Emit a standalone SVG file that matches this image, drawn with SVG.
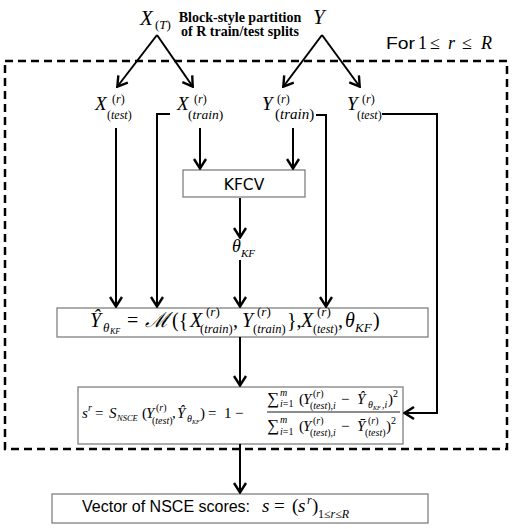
<svg xmlns="http://www.w3.org/2000/svg" width="512" height="529" viewBox="0 0 512 529">
<defs>
<marker id="ah" markerUnits="userSpaceOnUse" viewBox="0 0 12 14" markerWidth="12" markerHeight="14" refX="11" refY="7" orient="auto">
<path d="M1,1 L10.5,7 L1,13" fill="none" stroke="#000" stroke-width="2.4"/>
</marker>
</defs>
<style>
.mi{font-family:"Liberation Serif","DejaVu Serif",serif;font-style:italic;fill:#000}
.mu{font-family:"Liberation Serif","DejaVu Serif",serif;font-style:normal;fill:#000}
.ss{font-family:"Liberation Sans",Arial,sans-serif;fill:#000}
.box{fill:#fff;stroke:#808080;stroke-width:1.3}
.c{fill:none;stroke:#000;stroke-width:2;marker-end:url(#ah)}
</style>
<rect width="512" height="529" fill="#fff"/>

<!-- loop frame -->
<g id="loop">
<rect x="5" y="61" width="502" height="388" fill="none" stroke="#000" stroke-width="2.5" stroke-dasharray="8,5"/>
<text class="ss" x="386" y="49" font-size="17" textLength="29" lengthAdjust="spacingAndGlyphs">For</text>
<text class="mu" x="418" y="49" font-size="18">1<tspan x="430">≤</tspan><tspan x="448" class="mi">r</tspan><tspan x="462">≤</tspan><tspan x="481" class="mi">R</tspan></text>
</g>

<!-- top sources -->
<g id="XT">
<text class="mi" x="140" y="25" font-size="21">X<tspan class="mu" x="155" y="29" font-size="13">(</tspan><tspan font-size="13">T</tspan><tspan class="mu" font-size="13">)</tspan></text>
</g>
<g id="partition-label">
<text font-family="'Liberation Serif',serif" font-weight="bold" font-size="14" x="240" y="22" text-anchor="middle">Block-style partition</text>
<text font-family="'Liberation Serif',serif" font-weight="bold" font-size="14" x="240" y="36" text-anchor="middle">of R train/test splits</text>
</g>
<g id="Y">
<text class="mi" x="313" y="24" font-size="21">Y</text>
</g>

<!-- split labels -->
<g id="Xtest">
<text class="mi" x="95" y="110" font-size="19">X<tspan class="mu" x="112" y="103" font-size="12">(</tspan><tspan font-size="12">r</tspan><tspan class="mu" font-size="12">)</tspan><tspan class="mu" x="107" y="119" font-size="12">(</tspan><tspan font-size="12">test</tspan><tspan class="mu" font-size="12">)</tspan></text>
</g>
<g id="Xtrain">
<text class="mi" x="177" y="110" font-size="19">X<tspan class="mu" x="194" y="103" font-size="12">(</tspan><tspan font-size="12">r</tspan><tspan class="mu" font-size="12">)</tspan><tspan class="mu" x="188" y="119" font-size="13.5">(</tspan><tspan font-size="13.5">train</tspan><tspan class="mu" font-size="13.5">)</tspan></text>
</g>
<g id="Ytrain">
<text class="mi" x="262" y="110" font-size="19">Y<tspan class="mu" x="277" y="103" font-size="12">(</tspan><tspan font-size="12">r</tspan><tspan class="mu" font-size="12">)</tspan><tspan class="mu" x="275" y="119" font-size="15">(</tspan><tspan font-size="15">train</tspan><tspan class="mu" font-size="15">)</tspan></text>
</g>
<g id="Ytest">
<text class="mi" x="347" y="110" font-size="19">Y<tspan class="mu" x="362" y="103" font-size="12">(</tspan><tspan font-size="12">r</tspan><tspan class="mu" font-size="12">)</tspan><tspan class="mu" x="357" y="119" font-size="12">(</tspan><tspan font-size="12">test</tspan><tspan class="mu" font-size="12">)</tspan></text>
</g>

<!-- KFCV -->
<g id="KFCV">
<rect class="box" x="183" y="170" width="122" height="27"/>
<text font-family="'DejaVu Sans',sans-serif" font-size="15.5" x="244" y="190" text-anchor="middle">KFCV</text>
</g>

<g id="theta">
<text class="mi" x="232" y="252" font-size="18">θ<tspan x="241" y="257" font-size="11">KF</tspan></text>
</g>

<!-- model box -->
<g id="model">
<rect class="box" x="57" y="308" width="371" height="29"/>
<text class="mi" x="90" y="327" font-size="20">Ŷ<tspan x="103" y="332" font-size="13">θ</tspan><tspan x="110" y="334" font-size="8">KF</tspan><tspan class="mu" x="127" y="327">=</tspan><tspan x="145" y="327" font-size="21" font-family="'DejaVu Serif',serif">ℳ</tspan><tspan class="mu" x="172" y="327">({</tspan><tspan x="190" y="327">X</tspan><tspan class="mu" x="206" y="316" font-size="13">(</tspan><tspan font-size="13">r</tspan><tspan class="mu" font-size="13">)</tspan><tspan class="mu" x="200" y="333" font-size="12.5">(</tspan><tspan font-size="12.5">train</tspan><tspan class="mu" font-size="12.5">)</tspan><tspan class="mu" x="233" y="327">,</tspan><tspan x="242" y="327">Y</tspan><tspan class="mu" x="257" y="316" font-size="13">(</tspan><tspan font-size="13">r</tspan><tspan class="mu" font-size="13">)</tspan><tspan class="mu" x="253" y="333" font-size="12.5">(</tspan><tspan font-size="12.5">train</tspan><tspan class="mu" font-size="12.5">)</tspan><tspan class="mu" x="287" y="327">},</tspan><tspan x="301" y="327">X</tspan><tspan class="mu" x="317" y="316" font-size="13">(</tspan><tspan font-size="13">r</tspan><tspan class="mu" font-size="13">)</tspan><tspan class="mu" x="313" y="333" font-size="12">(</tspan><tspan font-size="12">test</tspan><tspan class="mu" font-size="12">)</tspan><tspan class="mu" x="338" y="327">,</tspan><tspan x="345" y="327">θ</tspan><tspan x="355" y="332" font-size="13">KF</tspan><tspan class="mu" x="373" y="327">)</tspan></text>
</g>

<!-- score box -->
<g id="score">
<rect class="box" x="78" y="387" width="325" height="57"/>
<text class="mi" x="82" y="418" font-size="15">s<tspan x="88" y="411" font-size="10">r</tspan><tspan class="mu" x="95" y="418">=</tspan><tspan x="109" y="418">S</tspan><tspan x="117" y="421" font-size="8.5">NSCE</tspan><tspan class="mu" x="142" y="418">(</tspan><tspan x="146" y="418">Y</tspan><tspan class="mu" x="156" y="411" font-size="10">(</tspan><tspan font-size="10">r</tspan><tspan class="mu" font-size="10">)</tspan><tspan class="mu" x="152" y="424" font-size="10">(</tspan><tspan font-size="10">test</tspan><tspan class="mu" font-size="10">)</tspan><tspan class="mu" x="172" y="418">,</tspan><tspan x="177" y="418">Ŷ</tspan><tspan x="187" y="422" font-size="10">θ</tspan><tspan x="192" y="424" font-size="6">KF</tspan><tspan class="mu" x="200" y="418">)</tspan><tspan class="mu" x="208" y="418">=</tspan><tspan class="mu" x="224" y="418">1</tspan><tspan class="mu" x="235" y="418">−</tspan></text>
<!-- numerator -->
<text class="mu" x="267" y="404" font-size="17">∑<tspan class="mi" x="280" y="396" font-size="10">m</tspan><tspan class="mi" x="280" y="407" font-size="10">i</tspan><tspan font-size="10">=1</tspan><tspan x="299" y="404" font-size="15">(</tspan><tspan class="mi" x="303" y="404" font-size="15">Y</tspan><tspan x="313" y="397" font-size="10">(</tspan><tspan class="mi" font-size="10">r</tspan><tspan font-size="10">)</tspan><tspan x="310" y="409" font-size="10">(</tspan><tspan class="mi" font-size="10">test</tspan><tspan font-size="10">),</tspan><tspan class="mi" font-size="10">i</tspan><tspan x="341" y="404" font-size="15">−</tspan><tspan class="mi" x="357" y="404" font-size="15">Ŷ</tspan><tspan class="mi" x="368" y="408" font-size="10">θ</tspan><tspan class="mi" x="373" y="410" font-size="6">KF</tspan><tspan x="382" y="408" font-size="10">,</tspan><tspan class="mi" font-size="10">i</tspan><tspan x="388" y="404" font-size="15">)</tspan><tspan x="393" y="397" font-size="10">2</tspan></text>
<line x1="267" y1="412" x2="400" y2="412" stroke="#000" stroke-width="0.9"/>
<!-- denominator -->
<text class="mu" x="267" y="431" font-size="17">∑<tspan class="mi" x="280" y="423" font-size="10">m</tspan><tspan class="mi" x="280" y="435" font-size="10">i</tspan><tspan font-size="10">=1</tspan><tspan x="299" y="431" font-size="15">(</tspan><tspan class="mi" x="303" y="431" font-size="15">Y</tspan><tspan x="313" y="424" font-size="10">(</tspan><tspan class="mi" font-size="10">r</tspan><tspan font-size="10">)</tspan><tspan x="310" y="436" font-size="10">(</tspan><tspan class="mi" font-size="10">test</tspan><tspan font-size="10">),</tspan><tspan class="mi" font-size="10">i</tspan><tspan x="341" y="431" font-size="15">−</tspan><tspan class="mi" x="357" y="431" font-size="15">Ȳ</tspan><tspan x="368" y="424" font-size="10">(</tspan><tspan class="mi" font-size="10">r</tspan><tspan font-size="10">)</tspan><tspan x="365" y="436" font-size="10">(</tspan><tspan class="mi" font-size="10">test</tspan><tspan font-size="10">)</tspan><tspan x="386" y="431" font-size="15">)</tspan><tspan x="391" y="424" font-size="10">2</tspan></text>
</g>

<!-- result box -->
<g id="result">
<rect class="box" x="52" y="494" width="376" height="29"/>
<text class="ss" x="82" y="512" font-size="16">Vector of NSCE scores:</text>
<text class="mi" x="262" y="512" font-size="19">s<tspan class="mu" x="274">=</tspan><tspan class="mu" x="292">(</tspan><tspan x="298">s</tspan><tspan x="307" y="504" font-size="12">r</tspan><tspan class="mu" x="312" y="512">)</tspan><tspan class="mu" x="318" y="518" font-size="12">1≤</tspan><tspan font-size="12">r</tspan><tspan class="mu" font-size="12">≤</tspan><tspan font-size="12">R</tspan></text>
</g>

<!-- connectors -->
<g id="connectors">
<line class="c" x1="157" y1="35" x2="117" y2="87"/>
<line class="c" x1="157" y1="35" x2="193" y2="87"/>
<line class="c" x1="322" y1="35" x2="283" y2="87"/>
<line class="c" x1="322" y1="35" x2="360" y2="87"/>
<line class="c" x1="116" y1="128" x2="116" y2="307"/>
<polyline class="c" points="170,114 157,114 157,307"/>
<line class="c" x1="200" y1="128" x2="200" y2="169"/>
<line class="c" x1="293" y1="128" x2="293" y2="169"/>
<polyline class="c" points="316,115 326,115 326,307"/>
<polyline class="c" points="382,114 437,114 437,413 404,413"/>
<line class="c" x1="240" y1="198" x2="240" y2="238"/>
<line class="c" x1="240" y1="260" x2="240" y2="307"/>
<line class="c" x1="240" y1="337" x2="240" y2="386"/>
<line class="c" x1="240" y1="444" x2="240" y2="493"/>
</g>
</svg>
